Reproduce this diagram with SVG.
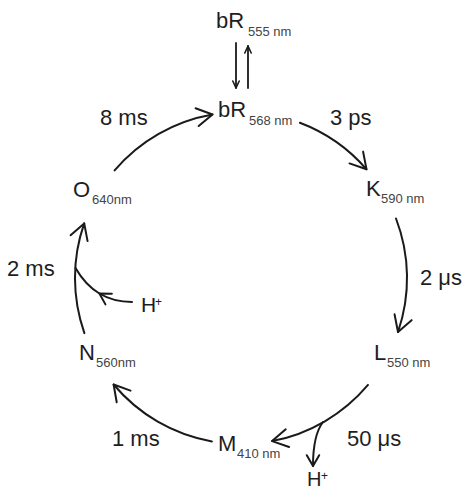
<svg xmlns="http://www.w3.org/2000/svg" width="464" height="490" viewBox="0 0 464 490">
<style>
text{font-family:"Liberation Sans",Arial,sans-serif;fill:#1e1e1e}
.m{font-size:22px}
.s{font-size:13px;fill:#444}
.lab{font-size:22px}
.sup{font-size:12px}
.c{fill:none;stroke:#1a1a1a;stroke-width:2;stroke-linecap:round;stroke-linejoin:round}
.v{fill:none;stroke:#1a1a1a;stroke-width:1.8;stroke-linecap:round}
</style>
<defs>
<marker id="big" markerUnits="userSpaceOnUse" viewBox="-20 -12 24 24" refX="0" refY="0" markerWidth="24" markerHeight="24" orient="auto" overflow="visible">
<path d="M-15.6,-9 L0,0 L-15.6,9" fill="none" stroke="#1a1a1a" stroke-width="2" stroke-linecap="round" stroke-linejoin="round"/>
</marker>
<marker id="med" markerUnits="userSpaceOnUse" viewBox="-14 -9 18 18" refX="0" refY="0" markerWidth="18" markerHeight="18" orient="auto" overflow="visible">
<path d="M-10.8,-6.2 L0,0 L-10.8,6.2" fill="none" stroke="#1a1a1a" stroke-width="2" stroke-linecap="round" stroke-linejoin="round"/>
</marker>
<marker id="sm" markerUnits="userSpaceOnUse" viewBox="-10 -6 12 12" refX="0" refY="0" markerWidth="12" markerHeight="12" orient="auto" overflow="visible">
<path d="M-7,-3.2 L0,0 L-7,3.2" fill="none" stroke="#1a1a1a" stroke-width="1.6" stroke-linecap="round" stroke-linejoin="round"/>
</marker>
</defs>

<g id="connectors">
<path class="v" d="M236,43 L236,88" marker-end="url(#sm)"/>
<path class="v" d="M248,88 L248,46" marker-end="url(#sm)"/>
<path class="c" d="M114.6,170.4 A166,166 0 0 1 212.5,114.5" marker-end="url(#big)"/>
<path class="c" d="M299.9,122.8 A166,166 0 0 1 366.5,169.3" marker-end="url(#big)"/>
<path class="c" d="M396,218.5 A166,166 0 0 1 398,332" marker-end="url(#big)"/>
<path class="c" d="M368,384.9 A166,166 0 0 1 272.1,441.1" marker-end="url(#big)"/>
<path class="c" d="M323,422 Q313,435 313,466" marker-end="url(#med)"/>
<path class="c" d="M211.9,441.4 A166,166 0 0 1 113.6,384.5" marker-end="url(#big)"/>
<path class="c" d="M84.4,333.1 A166,166 0 0 1 84.2,223.4" marker-end="url(#big)"/>
<path class="c" d="M132,302 Q113.5,302 99.4,293.5 Q85.25,285 75.5,268" marker-mid="url(#med)"/>
<g id="labels">
<text class="lab" x="100" y="125">8 ms</text>
<text class="lab" x="330" y="125">3 ps</text>
<text class="lab" x="420" y="285">2 μs</text>
<text class="lab" x="347" y="446">50 μs</text>
<text class="lab" x="112" y="446">1 ms</text>
<text class="lab" x="7" y="276">2 ms</text>
</g>
</g>

<g id="node-bR555"><text><tspan class="m" x="216" y="28">bR</tspan><tspan class="s" x="248" y="36">555 nm</tspan></text></g>
<g id="node-bR568"><text><tspan class="m" x="218" y="117">bR</tspan><tspan class="s" x="249" y="125">568 nm</tspan></text></g>
<g id="node-K"><text><tspan class="m" x="366" y="196">K</tspan><tspan class="s" x="381" y="203">590 nm</tspan></text></g>
<g id="node-L"><text><tspan class="m" x="374" y="360">L</tspan><tspan class="s" x="387" y="367">550 nm</tspan></text></g>
<g id="node-M"><text><tspan class="m" x="218" y="451">M</tspan><tspan class="s" x="237" y="458">410 nm</tspan></text></g>
<g id="node-N"><text><tspan class="m" x="79" y="360">N</tspan><tspan class="s" x="96" y="367">560nm</tspan></text></g>
<g id="node-O"><text><tspan class="m" x="73" y="197">O</tspan><tspan class="s" x="92" y="204">640nm</tspan></text></g>
<g id="node-Hin"><text><tspan class="lab" x="141" y="312" style="font-size:21px">H</tspan><tspan class="sup" x="155" y="306">+</tspan></text></g>
<g id="node-Hout"><text><tspan class="lab" x="307" y="486" style="font-size:20px">H</tspan><tspan class="sup" x="321" y="480">+</tspan></text></g>
</svg>
